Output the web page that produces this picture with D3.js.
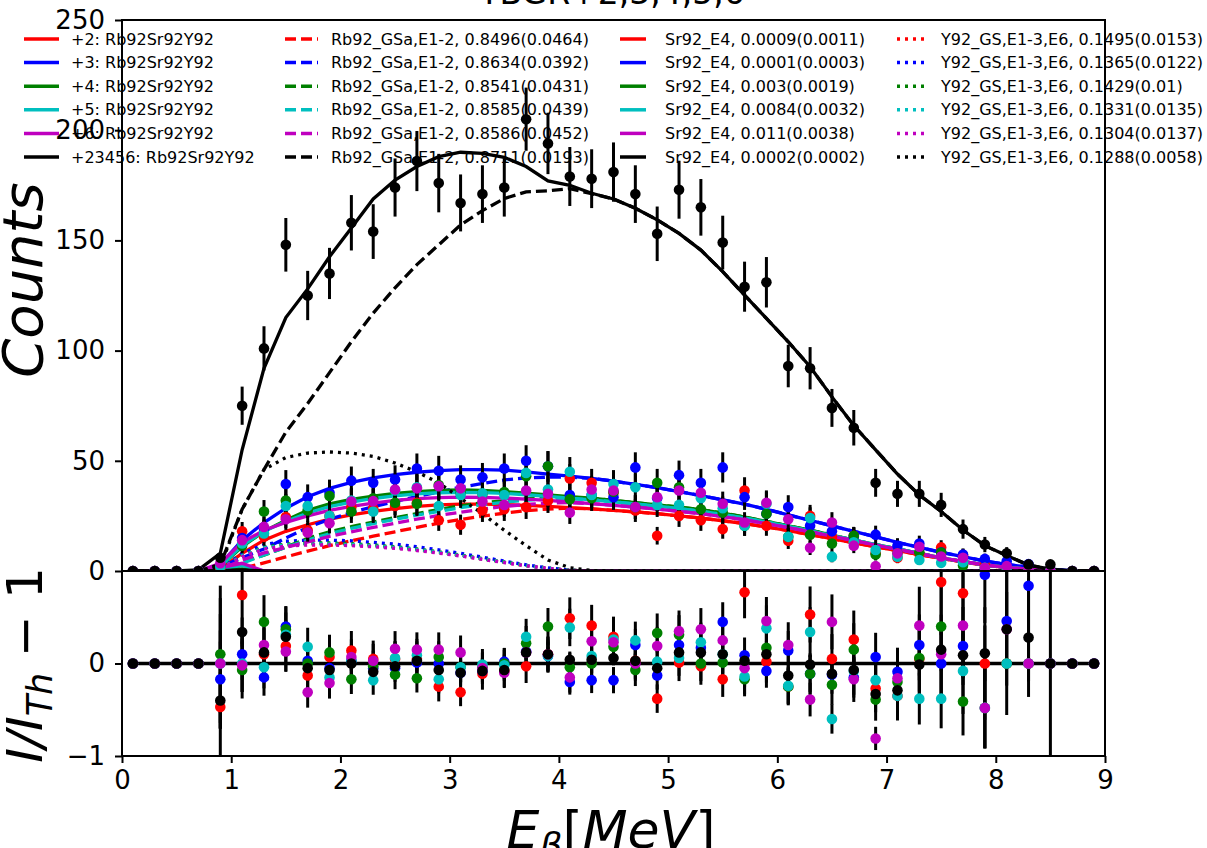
<!DOCTYPE html>
<html>
<head>
<meta charset="utf-8">
<script src="https://cdn.jsdelivr.net/npm/d3@7"></script>
<style>
  body { margin: 0; background: #fff; }
  svg { display: block; }
</style>
</head>
<body>
<div id="chart-area"></div>
<script>
// beta energy bin centres (MeV)
const energies = [0.1,0.3,0.5,0.7,0.9,1.1,1.3,1.5,1.7,1.9,2.1,2.3,2.5,2.7,2.9,3.1,3.3,3.5,3.7,3.9,4.1,4.3,4.5,4.7,4.9,5.1,5.3,5.5,5.7,5.9,6.1,6.3,6.5,6.7,6.9,7.1,7.3,7.5,7.7,7.9,8.1,8.3,8.5,8.7,8.9];

const xTicks = [0,1,2,3,4,5,6,7,8,9];
const yTicksTop = [0,50,100,150,200,250];
const yTicksBottom = [-1,0];

// measured counts
const countsP2 = [0,0,0,0,0.5,18,15.5,24.5,18.5,25,29,28.5,29.5,31,23,21,27.5,28,29,32,42,40,35.5,27.5,16,25,23,19,36.5,20.5,13.7,25,15.5,16,8,6,7.8,10.7,7.2,2.7,0,0,0,0,0];
const countsP3 = [0,0,0,0,2.5,15,19,39.5,33.5,35.5,41,40,41.5,46.5,45.5,41.5,42.5,46.5,50,47.5,34.5,34.5,33.5,47,33,43.5,40,47,33.5,26,29,20.5,18,15.5,16.5,11.5,12.5,8.5,7.5,5.5,4.4,3.1,0,0,0];
const countsP4 = [0,0,0,0,2.2,11.5,27,32,27.5,34,27,33,31,30.5,39,35.5,35,35.8,43,47.5,32.5,33,36,29,40,38,28,26.5,20.5,26,15.5,16.5,12.5,16,7.5,8,8.5,8.4,2.5,1.5,0,0,0,0,0];
const countsP5 = [0,0,0,0,2,12.5,17,29.5,29.5,25,32,27,36.5,38,29.5,34.5,35.2,34.5,44.5,37,45,34.5,39.5,38,30,30,33,28.5,20.5,30.5,15.5,24,6.5,13,9.5,6.5,5,3.7,4,1.5,0,0,0,0,0];
const countsP6 = [0,0,0,0,3.5,14,20,23.5,17.5,21.7,31.5,31.7,37,37.5,38.5,37.5,31.5,30,36.5,35,26.5,37,36.5,29,33.5,36.5,35.5,30.5,22,31,23.5,10.5,22,11.5,2.2,8,11,6.6,6,1.5,2.2,0,0,0,0];
const countsAll = [0,0,0,0,6,75,101,148,125,135,158,154,174,186,176,167,171,174,205,194,179,178,181,171,153,173,165,149,129,131,93,92,74,65,40,35,35,30,19,12,8,3,3,0,0];

// total fits
const fitP2 = [0,0,0,0,1,8,14,18,21,23.5,25.5,27,28.3,29.3,30,30.3,30.3,30.1,29.8,29.3,28.8,28.2,27.5,26.8,26,25,24,22.8,21.5,20,18.3,16.5,14.7,12.8,11,9.2,7.4,5.7,4.1,2.7,1.5,0.7,0.2,0,0];
const fitP3 = [0,0,0,0,3,14,22,28.5,33.7,37.5,40.2,42.2,43.7,44.8,45.5,46,46,45.8,45,44,43,42,40.8,39.3,37.8,36,34.2,32.3,30.3,28,25.5,23,20.5,18,15.5,13,10.7,8.5,6.5,4.5,3,1.7,0.8,0.2,0];
const fitP4 = [0,0,0,0,2,11,18,23,27.5,30.5,32.5,34,35.2,36,36.6,36.8,36.6,36,35.3,34.5,33.7,33,32,31,30,29,27.8,26.3,24.5,22.5,20.5,18.5,16.3,14,12,10,8,6,4.3,2.8,1.6,0.8,0.3,0,0];
const fitP5 = [0,0,0,0,2,11.5,18,22.5,26.3,29.2,31.3,32.9,34.1,35,35.5,35.7,35.6,35.2,34.6,33.9,33.1,32.3,31.4,30.4,29.4,28.3,27.1,25.7,24,22.2,20.2,18.2,16.1,14,12,10,8,6,4.3,2.8,1.6,0.8,0.3,0,0];
const fitP6 = [0,0,0,0,3.5,13,18.5,22,25,27.5,29.3,30.8,32,32.8,33.3,33.5,33.4,33.1,32.6,32,31.3,30.6,29.8,29,28.1,27.1,26,24.7,23.2,21.5,19.7,17.8,15.8,13.8,11.8,9.8,7.9,6,4.3,2.8,1.6,0.8,0.3,0,0];
const fitAll = [0,0,0,0.5,8,55,92,115,128,142.6,155.6,168.8,177.4,183.5,188,190,189.5,187.7,183.5,177,175,171.4,168.8,164.6,159.3,153.2,145.6,135.8,125.2,114.6,104,92.7,79,66,55,44,34.5,27,18.6,11.5,7,2.7,0.8,0,0];

// Rb92 component (dashed)
const rbP2 = [0,0,0,0,0,1.2,3.7,6.4,9,11.5,13.7,15.8,17.8,19.8,21.7,23.4,24.9,26.2,27.4,28.1,28.5,28.2,27.5,26.8,26,25,24,22.8,21.5,20,18.3,16.5,14.7,12.8,11,9.2,7.4,5.7,4.1,2.7,1.5,0.7,0.2,0,0];
const rbP3 = [0,0,0,0,2,6,10,15,19.7,23.5,26.5,29.2,31.5,33.8,35.9,38,39.7,41.3,42.2,42.6,42.6,42,40.8,39.3,37.8,36,34.2,32.3,30.3,28,25.5,23,20.5,18,15.5,13,10.7,8.5,6.5,4.5,3,1.7,0.8,0.2,0];
const rbP4 = [0,0,0,0,1,4,7.2,10.8,14.8,17.8,20.1,22.2,24.2,26,27.9,29.6,30.9,31.9,32.8,33.2,33.3,33,32,31,30,29,27.8,26.3,24.5,22.5,20.5,18.5,16.3,14,12,10,8,6,4.3,2.8,1.6,0.8,0.3,0,0];
const rbP5 = [0,0,0,0,0.5,3.5,7.3,10.7,14,16.9,19.3,21.5,23.4,25.3,27.1,28.7,30.1,31.2,32.1,32.7,32.8,32.3,31.4,30.4,29.4,28.3,27.1,25.7,24,22.2,20.2,18.2,16.1,14,12,10,8,6,4.3,2.8,1.6,0.8,0.3,0,0];
const rbP6 = [0,0,0,0,0.5,5,8.2,10.7,13.2,15.7,17.8,19.8,21.7,23.5,25.2,26.7,28.1,29.3,30.2,30.8,31,30.6,29.8,29,28.1,27.1,26,24.7,23.2,21.5,19.7,17.8,15.8,13.8,11.8,9.8,7.9,6,4.3,2.8,1.6,0.8,0.3,0,0];
const rbAll = [0,0,0,0,3,28,46,63,76,90,104,117,128.5,139,148,157,163.5,169,172,172.5,173.5,171.2,168.8,164.6,159.3,153.2,145.6,135.8,125.2,114.6,104,92.7,79,66,55,44,34.5,27,18.6,11.5,7,2.7,0.8,0,0];

// Sr92 E4 component (solid, near zero)
const srP2 = [0,0,0,0,0,0.3,0,0,0,0,0,0,0,0,0,0,0,0,0,0,0,0,0,0,0,0,0,0,0,0,0,0,0,0,0,0,0,0,0,0,0,0,0,0,0];
const srP3 = [0,0,0,0,0,0,0,0,0,0,0,0,0,0,0,0,0,0,0,0,0,0,0,0,0,0,0,0,0,0,0,0,0,0,0,0,0,0,0,0,0,0,0,0,0];
const srP4 = [0,0,0,0,0.4,0.9,0,0,0,0,0,0,0,0,0,0,0,0,0,0,0,0,0,0,0,0,0,0,0,0,0,0,0,0,0,0,0,0,0,0,0,0,0,0,0];
const srP5 = [0,0,0,0,1.2,2.5,0,0,0,0,0,0,0,0,0,0,0,0,0,0,0,0,0,0,0,0,0,0,0,0,0,0,0,0,0,0,0,0,0,0,0,0,0,0,0];
const srP6 = [0,0,0,0,1.5,3.5,0,0,0,0,0,0,0,0,0,0,0,0,0,0,0,0,0,0,0,0,0,0,0,0,0,0,0,0,0,0,0,0,0,0,0,0,0,0,0];
const srAll = [0,0,0,0,0.2,0.5,0,0,0,0,0,0,0,0,0,0,0,0,0,0,0,0,0,0,0,0,0,0,0,0,0,0,0,0,0,0,0,0,0,0,0,0,0,0,0];

// Y92 component (dotted)
const yP2 = [0,0,0,0,1,6.8,10.3,11.6,12,12,11.8,11.2,10.5,9.5,8.3,6.9,5.4,3.9,2.4,1.2,0.3,0,0,0,0,0,0,0,0,0,0,0,0,0,0,0,0,0,0,0,0,0,0,0,0];
const yP3 = [0,0,0,0,1,8,12,13.5,14,14,13.7,13,12.2,11,9.6,8,6.3,4.5,2.8,1.4,0.4,0,0,0,0,0,0,0,0,0,0,0,0,0,0,0,0,0,0,0,0,0,0,0,0];
const yP4 = [0,0,0,0,1,7,10.8,12.2,12.7,12.7,12.4,11.8,11,10,8.7,7.2,5.7,4.1,2.5,1.3,0.4,0,0,0,0,0,0,0,0,0,0,0,0,0,0,0,0,0,0,0,0,0,0,0,0];
const yP5 = [0,0,0,0,1,7,10.5,11.8,12.3,12.3,12,11.4,10.7,9.7,8.4,7,5.5,4,2.5,1.2,0.3,0,0,0,0,0,0,0,0,0,0,0,0,0,0,0,0,0,0,0,0,0,0,0,0];
const yP6 = [0,0,0,0,1,6.5,10,11.3,11.8,11.8,11.5,11,10.3,9.3,8.1,6.8,5.3,3.8,2.4,1.2,0.3,0,0,0,0,0,0,0,0,0,0,0,0,0,0,0,0,0,0,0,0,0,0,0,0];
const yAll = [0,0,0,0,2,28,46,51.5,53.5,54,53.5,52,49,45,40,33,26,18.5,11.5,5,1.5,0.2,0,0,0,0,0,0,0,0,0,0,0,0,0,0,0,0,0,0,0,0,0,0,0];

// residuals I/I_Th - 1
const residP2 = [0,0,0,0,-0.47,0.74,0.1,0.19,-0.13,0.07,0.14,0.05,0.05,0.05,-0.25,-0.31,-0.11,-0.08,-0.03,0.1,0.49,0.41,0.29,0.03,-0.38,0.01,-0.03,-0.17,0.77,0.02,-0.25,0.53,0.05,0.26,-0.27,-0.35,0.05,0.88,0.76,0,0,0,0,0,0];
const residP3 = [0,0,0,0,-0.17,0.1,-0.15,0.4,0.03,-0.05,0.03,-0.05,-0.05,0.01,0,-0.1,-0.08,0.02,0.13,0.08,-0.2,-0.18,-0.18,0.2,-0.13,0.2,0.17,0.45,0.09,-0.08,0.14,-0.11,-0.12,-0.15,0.07,-0.09,0.2,0,0.19,0.96,0.46,0.84,0,0,0];
const residP4 = [0,0,0,0,0.1,-0.07,0.45,0.37,0,0.12,-0.17,-0.03,-0.12,-0.16,0.07,-0.04,-0.04,0,0.22,0.4,-0.04,0,0.18,-0.07,0.33,0.31,0,0.01,-0.17,0.17,-0.25,-0.11,-0.23,0.15,-0.39,-0.2,0.06,0.4,-0.41,-0.48,0,0,0,0,0];
const residP5 = [0,0,0,0,0,0,-0.04,0.31,0.18,-0.15,0.03,-0.18,0.06,0.09,-0.17,-0.04,-0.01,-0.02,0.29,0.08,0.39,0.08,0.26,0.25,0.02,0.06,0.23,0.1,-0.14,0.38,-0.24,0.34,-0.6,-0.08,-0.18,-0.35,-0.38,-0.38,-0.08,-0.48,0,0,0,0,0];
const residP6 = [0,0,0,0,0,-0.02,0.2,0.13,-0.31,-0.21,0.07,0.03,0.16,0.15,0.15,0.12,-0.05,-0.1,0.12,0.1,-0.15,0.24,0.23,0,0.19,0.35,0.37,0.25,-0.05,0.46,0.2,-0.39,0.45,-0.17,-0.81,-0.16,0.41,0.1,0.41,-0.48,0.37,0,0,0,0];
const residAll = [0,0,0,0,-0.4,0.34,0.12,0.29,-0.05,-0.07,0,-0.09,-0.03,0.03,-0.07,-0.1,-0.08,-0.07,0.12,0.1,0.04,0.04,0.06,0.03,-0.05,0.12,0.12,0.1,0.03,0.1,-0.13,-0.01,-0.11,-0.07,-0.33,-0.29,-0.01,0.15,0.09,0.11,0.37,0.28,0,0,0];

// legend texts
const chargeLabels = ["+2: Rb92Sr92Y92","+3: Rb92Sr92Y92","+4: Rb92Sr92Y92","+5: Rb92Sr92Y92","+6: Rb92Sr92Y92","+23456: Rb92Sr92Y92"];
const rbLabels = ["Rb92_GSa,E1-2, 0.8496(0.0464)","Rb92_GSa,E1-2, 0.8634(0.0392)","Rb92_GSa,E1-2, 0.8541(0.0431)","Rb92_GSa,E1-2, 0.8585(0.0439)","Rb92_GSa,E1-2, 0.8586(0.0452)","Rb92_GSa,E1-2, 0.8711(0.0193)"];
const srLabels = ["Sr92_E4, 0.0009(0.0011)","Sr92_E4, 0.0001(0.0003)","Sr92_E4, 0.003(0.0019)","Sr92_E4, 0.0084(0.0032)","Sr92_E4, 0.011(0.0038)","Sr92_E4, 0.0002(0.0002)"];
const yLabels = ["Y92_GS,E1-3,E6, 0.1495(0.0153)","Y92_GS,E1-3,E6, 0.1365(0.0122)","Y92_GS,E1-3,E6, 0.1429(0.01)","Y92_GS,E1-3,E6, 0.1331(0.0135)","Y92_GS,E1-3,E6, 0.1304(0.0137)","Y92_GS,E1-3,E6, 0.1288(0.0058)"];

const colors = ["#ff0000", "#0000ff", "#008000", "#00bfbf", "#bf00bf", "#000000"];

const series = [
    { counts: countsP2, fit: fitP2, rb: rbP2, sr: srP2, yy: yP2, resid: residP2 },
    { counts: countsP3, fit: fitP3, rb: rbP3, sr: srP3, yy: yP3, resid: residP3 },
    { counts: countsP4, fit: fitP4, rb: rbP4, sr: srP4, yy: yP4, resid: residP4 },
    { counts: countsP5, fit: fitP5, rb: rbP5, sr: srP5, yy: yP5, resid: residP5 },
    { counts: countsP6, fit: fitP6, rb: rbP6, sr: srP6, yy: yP6, resid: residP6 },
    { counts: countsAll, fit: fitAll, rb: rbAll, sr: srAll, yy: yAll, resid: residAll }
].map((s, k) => Object.assign(s, { color: colors[k] }));

const svg = d3.select("#chart-area").append("svg")
    .attr("width", 1207)
    .attr("height", 848)
    .style("font-family", "'DejaVu Sans', sans-serif");

const left = 122, right = 1105, topY = 20, midY = 571, bottomY = 756;

const x = d3.scaleLinear().domain([0, 9]).range([left, right]);
const yTop = d3.scaleLinear().domain([0, 250]).range([midY, topY]);
const yBot = d3.scaleLinear().domain([-1, 1]).range([bottomY, midY]);

const defs = svg.append("defs");
defs.append("clipPath").attr("id", "clipTop").append("rect")
    .attr("x", left).attr("y", topY).attr("width", right - left).attr("height", midY - topY);
defs.append("clipPath").attr("id", "clipBot").append("rect")
    .attr("x", left).attr("y", midY).attr("width", right - left).attr("height", bottomY - midY);

// ---------- top panel ----------
const gTop = svg.append("g").attr("clip-path", "url(#clipTop)");

const lineTop = d3.line().x((d, i) => x(energies[i])).y(d => yTop(d));

series.forEach(s => {
    gTop.append("path").datum(s.fit).attr("d", lineTop)
        .attr("fill", "none").attr("stroke", s.color).attr("stroke-width", 3.3);
    gTop.append("path").datum(s.rb).attr("d", lineTop)
        .attr("fill", "none").attr("stroke", s.color).attr("stroke-width", 3.3)
        .attr("stroke-dasharray", "11,5");
    gTop.append("path").datum(s.sr).attr("d", lineTop)
        .attr("fill", "none").attr("stroke", s.color).attr("stroke-width", 3.3);
    gTop.append("path").datum(s.yy).attr("d", lineTop)
        .attr("fill", "none").attr("stroke", s.color).attr("stroke-width", 3.3)
        .attr("stroke-dasharray", "3,5");
});

// poisson error bars, drawn in black for every series
series.forEach(s => {
    const pts = energies.map((e, i) => ({ e: e, c: s.counts[i] })).filter(d => d.c > 0);
    gTop.append("g").selectAll("line").data(pts).join("line")
        .attr("x1", d => x(d.e)).attr("x2", d => x(d.e))
        .attr("y1", d => yTop(d.c - Math.sqrt(d.c)))
        .attr("y2", d => yTop(d.c + Math.sqrt(d.c)))
        .attr("stroke", "#000").attr("stroke-width", 3);
});
series.forEach(s => {
    gTop.append("g").selectAll("circle").data(s.counts).join("circle")
        .attr("cx", (d, i) => x(energies[i])).attr("cy", d => yTop(d))
        .attr("r", 5.3).attr("fill", s.color);
});

// ---------- bottom panel ----------
const gBot = svg.append("g").attr("clip-path", "url(#clipBot)");
const lineBot = d3.line().x((d, i) => x(energies[i])).y(d => yBot(d));

gBot.append("path").datum(energies.map(() => 0)).attr("d", lineBot)
    .attr("fill", "none").attr("stroke", "#000").attr("stroke-width", 3.3);

series.forEach(s => {
    const pts = energies.map((e, i) => ({ e: e, r: s.resid[i], c: s.counts[i], f: s.fit[i] }))
        .filter(d => d.c > 0 && d.f > 0.3);
    gBot.append("g").selectAll("line").data(pts).join("line")
        .attr("x1", d => x(d.e)).attr("x2", d => x(d.e))
        .attr("y1", d => yBot(d.r - Math.sqrt(d.c) / d.f))
        .attr("y2", d => yBot(d.r + Math.sqrt(d.c) / d.f))
        .attr("stroke", "#000").attr("stroke-width", 3);
});
series.forEach(s => {
    gBot.append("g").selectAll("circle").data(s.resid).join("circle")
        .attr("cx", (d, i) => x(energies[i])).attr("cy", d => yBot(d))
        .attr("r", 5.3).attr("fill", s.color);
});

// ---------- axes ----------
function styleAxis(g) {
    g.select(".domain").remove();
    g.selectAll(".tick line").attr("stroke", "#000").attr("stroke-width", 2);
    g.selectAll(".tick text").style("font-size", "26px").attr("fill", "#000")
        .style("font-family", "'DejaVu Sans', sans-serif");
}

svg.append("g").attr("transform", `translate(${left},0)`)
    .call(d3.axisLeft(yTop).tickValues(yTicksTop).tickSize(7).tickPadding(10).tickFormat(d3.format("d")))
    .call(styleAxis);

svg.append("g").attr("transform", `translate(${left},0)`)
    .call(d3.axisLeft(yBot).tickValues(yTicksBottom).tickSize(7).tickPadding(10).tickFormat(d3.format("d")))
    .call(styleAxis);

svg.append("g").attr("transform", `translate(0,${bottomY})`)
    .call(d3.axisBottom(x).tickValues(xTicks).tickSize(7).tickPadding(8).tickFormat(d3.format("d")))
    .call(styleAxis);

// frames
[[topY, midY], [midY, bottomY]].forEach(([a, b]) => {
    svg.append("rect").attr("x", left).attr("y", a)
        .attr("width", right - left).attr("height", b - a)
        .attr("fill", "none").attr("stroke", "#000").attr("stroke-width", 2);
});

// ---------- labels ----------
svg.append("text")
    .attr("x", 612).attr("y", 4)
    .attr("text-anchor", "middle")
    .style("font-size", "33px")
    .text("TBGR+2,3,4,5,6");

svg.append("text")
    .attr("transform", "translate(42,280) rotate(-90)")
    .attr("text-anchor", "middle")
    .style("font-size", "56px").style("font-style", "italic")
    .text("Counts");

const resLabel = svg.append("text")
    .attr("transform", "translate(42,665) rotate(-90)")
    .attr("text-anchor", "middle")
    .style("font-size", "50px");
resLabel.append("tspan").style("font-style", "italic").text("I/I");
resLabel.append("tspan").style("font-style", "italic").style("font-size", "35px")
    .attr("dy", 10).text("Th");
resLabel.append("tspan").attr("dy", -10).text(" \u2212 1");

const xLabel = svg.append("text")
    .attr("x", 611).attr("y", 848)
    .attr("text-anchor", "middle")
    .style("font-size", "52px");
xLabel.append("tspan").style("font-style", "italic").text("E");
xLabel.append("tspan").style("font-style", "italic").style("font-size", "36px")
    .attr("dy", 10).text("\u03b2");
xLabel.append("tspan").attr("dy", -10).text("[");
xLabel.append("tspan").style("font-style", "italic").text("MeV");
xLabel.append("tspan").text("]");

// ---------- legend ----------
const legendCols = [
    { x0: 24, x1: 59, tx: 71, labels: chargeLabels, dash: null },
    { x0: 285, x1: 318, tx: 331, labels: rbLabels, dash: "11,5" },
    { x0: 620, x1: 646, tx: 665, labels: srLabels, dash: null },
    { x0: 897, x1: 928, tx: 941, labels: yLabels, dash: "3,5" }
];
const legend = svg.append("g");
legendCols.forEach(col => {
    col.labels.forEach((lab, r) => {
        const yy = 39 + r * 23.6;
        legend.append("line")
            .attr("x1", col.x0).attr("x2", col.x1).attr("y1", yy).attr("y2", yy)
            .attr("stroke", colors[r]).attr("stroke-width", 3.5)
            .attr("stroke-dasharray", col.dash);
        legend.append("text")
            .attr("x", col.tx).attr("y", yy).attr("dy", "0.35em")
            .style("font-size", "16px")
            .text(lab);
    });
});
</script>
</body>
</html>
